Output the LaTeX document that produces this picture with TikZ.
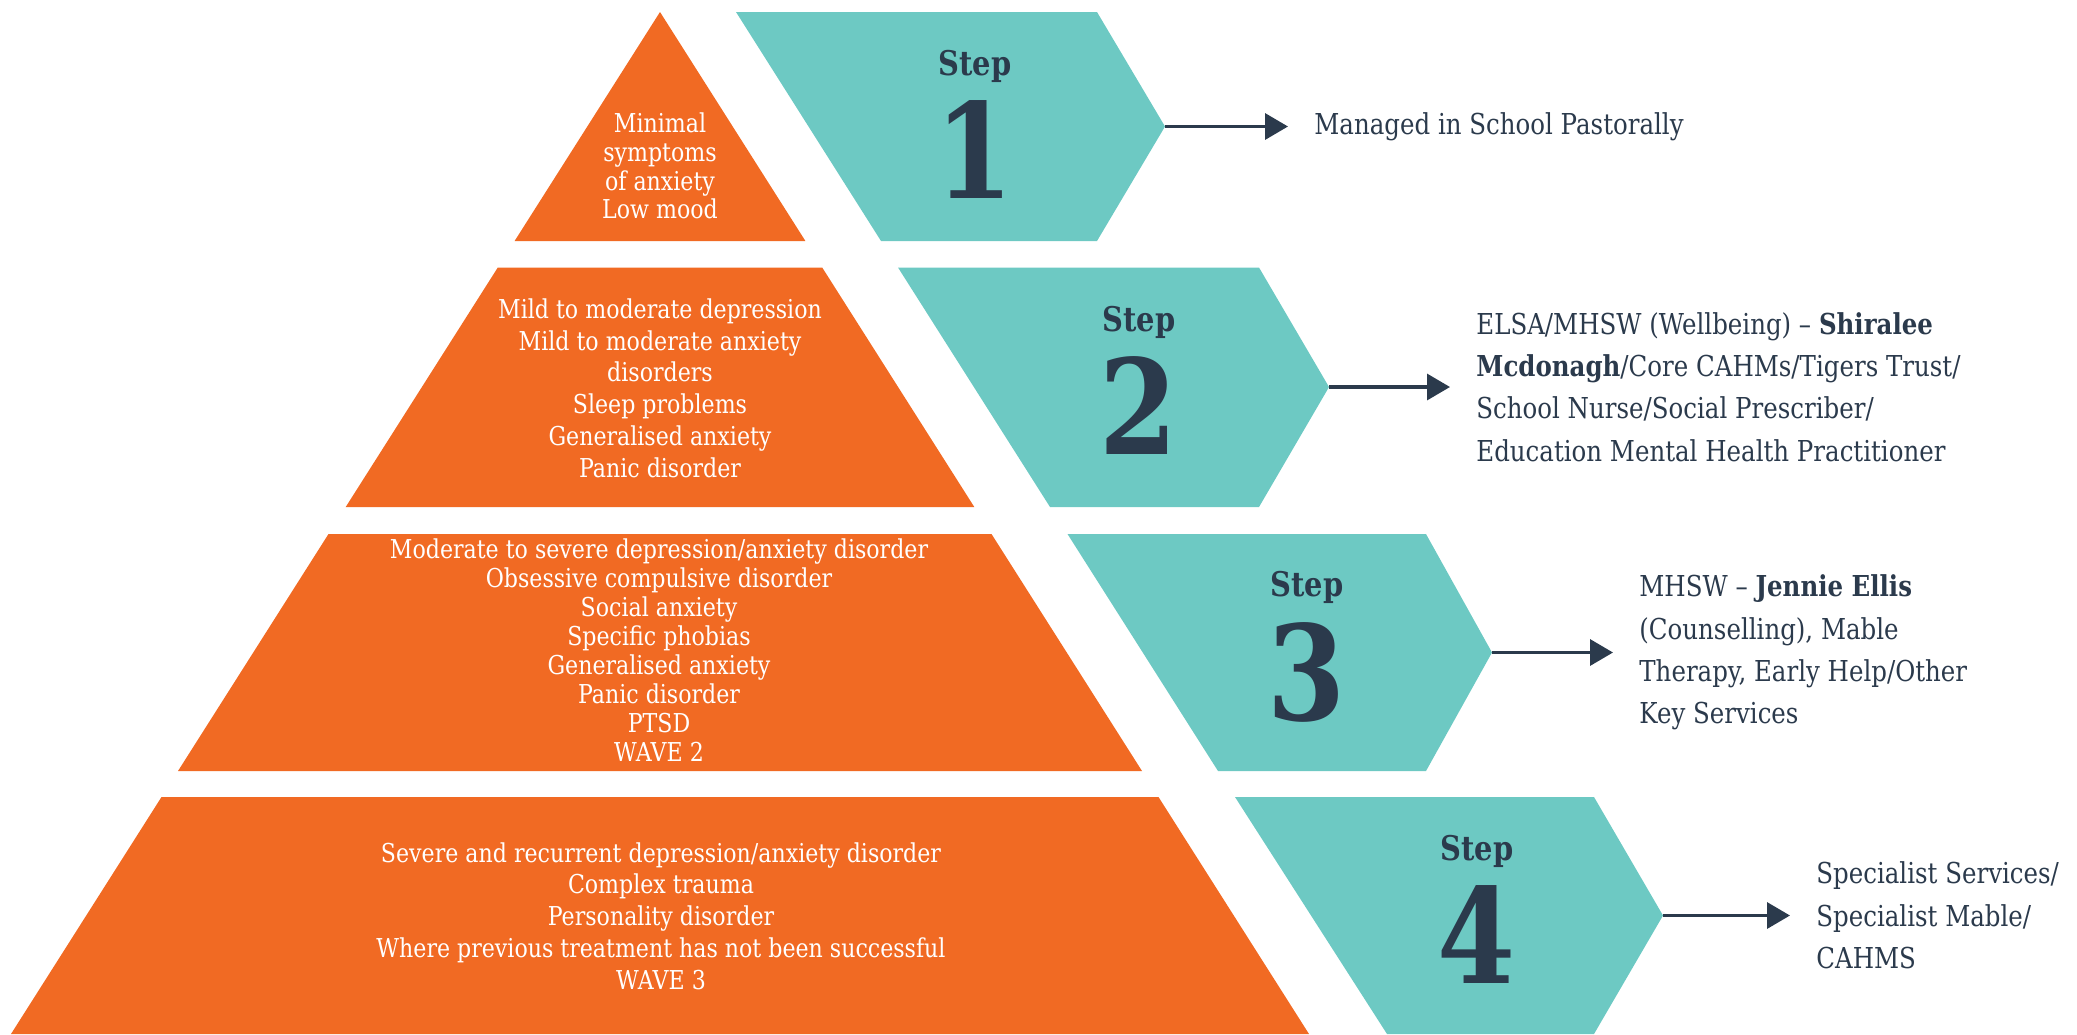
\documentclass[tikz,border=0pt]{standalone}
\usepackage{fontspec}
\setmainfont{DejaVu Serif}[FakeStretch = 0.85]
\usepackage{tikz}
\usetikzlibrary{arrows.meta}
\definecolor{tierorange}{HTML}{F16A23}
\definecolor{stepteal}{HTML}{6DC9C3}
\definecolor{navy}{HTML}{2B3A4C}

\begin{document}
\begin{tikzpicture}[x = 0.5pt, y = -0.5pt,
        tier/.style = {fill = tierorange},
        chevron/.style = {fill = stepteal},
        symptoms/.style = {text = white, align = center, inner sep = 0, font = \fontsize{13}{#1}\selectfont},
        symptoms/.default = 15.9,
        steplabel/.style = {text = navy, anchor = base, inner sep = 0, font = \bfseries\fontsize{17}{17}\selectfont},
        stepnum/.style = {text = navy, anchor = base, inner sep = 0, font = \bfseries\fontsize{66}{66}\selectfont},
        service/.style = {text = navy, anchor = west, align = left, inner sep = 0, font = \fontsize{14.4}{21.2}\selectfont},
        pointer/.style = {draw = navy, line width = 1.7pt, -{Triangle[length = 11.5pt, width = 13pt]}, shorten > = 13pt}]
                    \useasboundingbox (0, 0) rectangle (2077, 1034);

                    \fill [tier] (660, 12) -- (805.4, 241) -- (514.6, 241) -- cycle;
                    \fill [tier] (497.8, 267.5) -- (822.2, 267.5) -- (974.3, 507) -- (345.7, 507) -- cycle;
                    \fill [tier] (328.5, 534) -- (991.5, 534) -- (1142, 771) -- (178, 771) -- cycle;
                    \fill [tier] (161.5, 797) -- (1158.5, 797) -- (1309, 1034) -- (11, 1034) -- cycle;

                    \fill [chevron] (736, 12) -- (1097, 12) -- (1165, 126.5) -- (1097, 241) -- (881, 241) -- cycle;
                    \fill [chevron] (898, 267.5) -- (1259, 267.5) -- (1329, 387) -- (1259, 507) -- (1050, 507) -- cycle;
                    \fill [chevron] (1067.5, 534) -- (1426, 534) -- (1492, 652.5) -- (1426, 771) -- (1218, 771) -- cycle;
                    \fill [chevron] (1235, 797) -- (1594, 797) -- (1663, 915.5) -- (1594, 1034) -- (1387, 1034) -- cycle;

                    \node [symptoms = 14.4] (mild) at (660, 166) {Minimal\\ symptoms\\ of anxiety\\ Low mood};
                    \node [symptoms] (moderate) at (660, 388) {Mild to moderate depression\\ Mild to moderate anxiety\\ disorders\\ Sleep problems\\ Generalised anxiety\\ Panic disorder};
                    \node [symptoms = 14.5] (severe) at (659, 650) {Moderate to severe depression/anxiety disorder\\ Obsessive compulsive disorder\\ Social anxiety\\ Specific phobias\\ Generalised anxiety\\ Panic disorder\\ PTSD\\ WAVE 2};
                    \node [symptoms] (complex) at (661, 916) {Severe and recurrent depression/anxiety disorder\\ Complex trauma\\ Personality disorder\\ Where previous treatment has not been successful\\ WAVE 3};

                    \node [steplabel] (step1) at (975, 75.5) {Step};
                    \node [stepnum] (num1) at (975, 198.5) {1};
                    \node [steplabel] (step2) at (1139, 331) {Step};
                    \node [stepnum] (num2) at (1139, 454) {2};
                    \node [steplabel] (step3) at (1307, 596) {Step};
                    \node [stepnum] (num3) at (1307, 720) {3};
                    \node [steplabel] (step4) at (1477, 860) {Step};
                    \node [stepnum] (num4) at (1477, 983.5) {4};

                    \coordinate (tip1) at (1165, 126.5);
                    \coordinate (tip2) at (1329, 387);
                    \coordinate (tip3) at (1492, 652.5);
                    \coordinate (tip4) at (1663, 915.5);

                    \node [service] (care1) at (1314, 126.5) {Managed in School Pastorally};
                    \node [service] (care2) at (1476, 387) {ELSA/MHSW (Wellbeing) -- \textbf{Shiralee}\\ \textbf{Mcdonagh}/Core CAHMs/Tigers Trust/\\ School Nurse/Social Prescriber/\\ Education Mental Health Practitioner};
                    \node [service] (care3) at (1639, 652.5) {MHSW -- \textbf{Jennie Ellis}\\ (Counselling), Mable\\ Therapy, Early Help/Other\\ Key Services};
                    \node [service] (care4) at (1816, 915.5) {Specialist Services/\\ Specialist Mable/\\ CAHMS};

                    \draw [pointer] (tip1) -- (care1);
                    \draw [pointer] (tip2) -- (care2);
                    \draw [pointer] (tip3) -- (care3);
                    \draw [pointer] (tip4) -- (care4);
                \end{tikzpicture}
\end{document}
